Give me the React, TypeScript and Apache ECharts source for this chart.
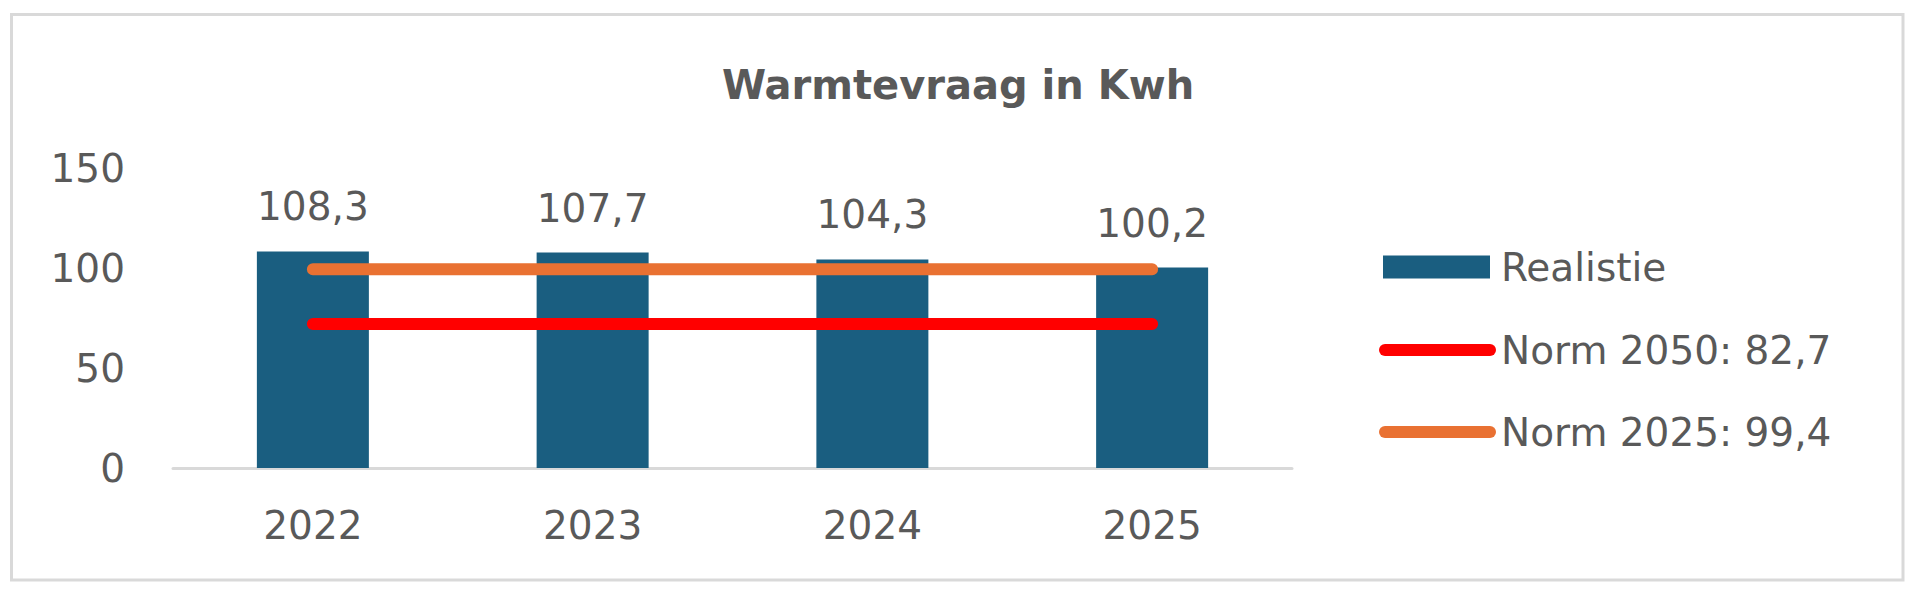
import React, { useEffect, useRef } from "react";
import * as echarts from "echarts";

const categories = ["2022", "2023", "2024", "2025"];
const realistie = [108.3, 107.7, 104.3, 100.2];
const norm2050 = [72, 72, 72, 72];
const norm2025 = [99.4, 99.4, 99.4, 99.4];
const yTicks = { min: 0, max: 150, interval: 50 };
const titleText = "Warmtevraag in Kwh";
const seriesNames = ["Realistie", "Norm 2050: 82,7", "Norm 2025: 99,4"];

const FONT = "DejaVu Sans";
const TEXT = "#595959";
const STADIUM = "path://M6,0 H111 A6,6 0 0 1 111,12 H6 A6,6 0 0 1 6,0 Z";

export default function App() {
  const ref = useRef<HTMLDivElement>(null);
  useEffect(() => {
    if (!ref.current) return;
    const chart = echarts.init(ref.current, null, { renderer: "svg" });
    const fmt = (v: number) => String(v).replace(".", ",");
    const legendText = { fontFamily: FONT, fontSize: 39, color: TEXT, lineHeight: 40 };
    chart.setOption({
      animation: false,
      backgroundColor: "#ffffff",
      textStyle: { fontFamily: FONT },
      graphic: [
        {
          type: "rect",
          z: -10,
          silent: true,
          shape: { x: 11.5, y: 14.5, width: 1891.5, height: 565.5 },
          style: { fill: "#ffffff", stroke: "#d9d9d9", lineWidth: 3 },
        },
      ],
      title: {
        text: titleText,
        left: 953,
        top: 60,
        textAlign: "center",
        textStyle: { fontFamily: FONT, fontSize: 40, fontWeight: "bold", color: TEXT },
      },
      legend: [
        {
          orient: "vertical",
          left: 1378,
          top: 242,
          itemWidth: 107,
          itemHeight: 23,
          itemGap: 43,
          itemStyle: { borderWidth: 0 },
          textStyle: { ...legendText, padding: [0, 0, 0, 6] },
          data: [{ name: seriesNames[0], icon: "rect" }],
        },
        {
          orient: "vertical",
          left: 1374,
          top: 325,
          itemWidth: 117,
          itemHeight: 12,
          itemGap: 42,
          textStyle: legendText,
          data: [
            { name: seriesNames[1], icon: STADIUM, itemStyle: { color: "#ff0000" } },
            { name: seriesNames[2], icon: STADIUM, itemStyle: { color: "#e97132" } },
          ],
        },
      ],
      grid: { left: 173, right: 628, top: 168, bottom: 127 },
      xAxis: {
        type: "category",
        data: categories,
        axisLine: { lineStyle: { color: "#d9d9d9", width: 3 } },
        axisTick: { show: false },
        axisLabel: { fontFamily: FONT, fontSize: 39, color: TEXT, margin: 38 },
      },
      yAxis: {
        type: "value",
        min: yTicks.min,
        max: yTicks.max,
        interval: yTicks.interval,
        splitLine: { show: false },
        axisLine: { show: false },
        axisTick: { show: false },
        axisLabel: { fontFamily: FONT, fontSize: 39, color: TEXT, margin: 48 },
      },
      series: [
        {
          name: seriesNames[0],
          type: "bar",
          data: realistie,
          barWidth: 112,
          itemStyle: { color: "#1a5e80" },
          label: {
            show: true,
            position: "top",
            distance: 25,
            fontFamily: FONT,
            fontSize: 39,
            color: TEXT,
            formatter: (p: any) => fmt(p.value),
          },
        },
        {
          name: seriesNames[1],
          type: "line",
          data: norm2050,
          symbol: "none",
          lineStyle: { color: "#ff0000", width: 12, cap: "round" },
          itemStyle: { color: "#ff0000" },
        },
        {
          name: seriesNames[2],
          type: "line",
          data: norm2025,
          symbol: "none",
          lineStyle: { color: "#e97132", width: 12, cap: "round" },
          itemStyle: { color: "#e97132" },
        },
      ],
    });
    return () => chart.dispose();
  }, []);
  return (
    <div style={{ position: "fixed", left: 0, top: 0, width: 1920, height: 595, background: "#fff" }}>
      <div ref={ref} style={{ width: 1920, height: 595 }} />
    </div>
  );
}
